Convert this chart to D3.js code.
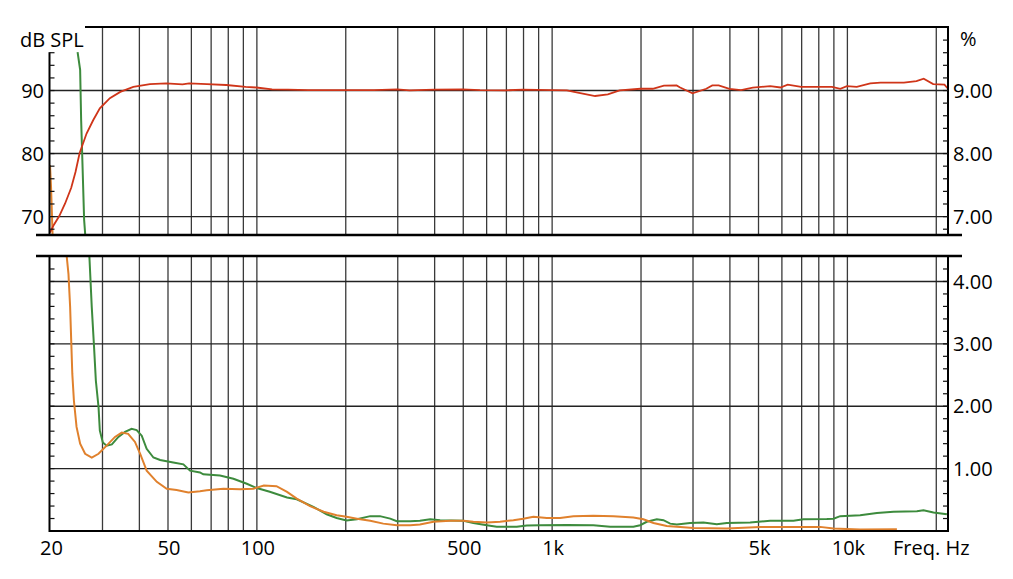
<!DOCTYPE html>
<html><head><meta charset="utf-8">
<script src="https://cdn.jsdelivr.net/npm/d3@7"></script>
<style>
body{margin:0;background:#fff;}
svg{display:block;font-family:"Open Sans",sans-serif;}
</style></head><body>
<svg id="c" width="1013" height="579"></svg>
<script>
// ---------- data ----------
const splFreqs = [20,20.6,21.5,22.5,23.6,24.4,25.2,26.6,28.0,29.5,31.9,34.6,38.3,43.6,49.5,56.2,59.2,68,79,92,100,113,128,150,250,300,330,400,500,572,700,800,1000,1126,1250,1404,1550,1700,2000,2200,2400,2650,2724,3000,3340,3500,3680,4000,4380,4800,5500,5960,6300,7000,8900,9500,10000,10800,12000,13000,15600,17200,18200,19600,21400,22000];
const splValues = [67.4,68.6,70.0,72.0,74.5,77.0,80.0,83.1,85.2,87.1,88.7,89.7,90.5,90.95,91.06,90.9,91.06,90.95,90.8,90.5,90.4,90.1,90.05,90.0,90.0,90.1,89.95,90.05,90.1,90.0,89.95,90.05,90.0,89.95,89.5,89.05,89.3,89.95,90.2,90.2,90.7,90.74,90.4,89.47,90.2,90.74,90.74,90.2,90.0,90.37,90.63,90.4,90.85,90.5,90.5,90.2,90.63,90.5,91.06,91.16,91.16,91.43,91.8,90.95,90.85,90.2];

const greenFreqs = [24.8,25.3,25.5,25.8,26.1,26.3,27.2,27.7,28.2,28.6,29.2,29.5,30.2,31.1,32.4,34.1,35.9,37.8,39.3,40.9,42.5,44.8,47.2,52.3,56.6,59.6,64.4,66.1,75.3,83.6,92.8,100.3,111,127,137,156,173,187,202,219,243,262,284,299,332,358,388,419,503,543,603,652,762,824,914,1126,1385,1578,1892,1994,2100,2271,2392,2520,2655,2944,3267,3626,3920,4702,5495,6592,7125,8554,9008,9490,11092,12636,14382,17260,18170,19644,21810];
const greenValues = [9.6,9.32,8.52,7.73,6.94,6.73,4.38,3.58,2.94,2.40,1.98,1.60,1.41,1.36,1.38,1.50,1.58,1.63,1.61,1.52,1.31,1.17,1.13,1.09,1.06,0.96,0.93,0.90,0.88,0.83,0.75,0.68,0.62,0.53,0.50,0.38,0.26,0.20,0.16,0.18,0.23,0.23,0.19,0.15,0.15,0.155,0.18,0.165,0.155,0.12,0.085,0.06,0.06,0.08,0.085,0.09,0.085,0.06,0.06,0.085,0.14,0.18,0.165,0.11,0.096,0.12,0.13,0.10,0.12,0.13,0.155,0.155,0.18,0.185,0.19,0.23,0.245,0.28,0.30,0.31,0.325,0.29,0.26];

const orangeFreqs = [20.0,20.16,20.3,20.4,20.45,22.8,23.1,23.4,23.6,23.8,24.1,24.6,25.3,26.3,27.7,29.2,31.1,33.2,35.0,36.8,38.8,40.4,42.5,46.0,49.7,53.7,58.8,64.4,67.9,77.3,88.0,97.7,106,117,127,137,152,169,187,202,219,243,269,299,332,358,398,453,503,543,603,669,742,802,867,963,1068,1185,1385,1619,1892,2045,2212,2454,2724,3022,3920,5084,8118,9008,11092,14768];
const orangeValues = [7.81,7.47,7.04,6.72,6.6,4.38,4.11,3.58,3.04,2.51,2.08,1.66,1.39,1.23,1.17,1.23,1.36,1.50,1.57,1.55,1.42,1.23,0.96,0.78,0.67,0.65,0.61,0.63,0.645,0.67,0.66,0.67,0.72,0.71,0.62,0.51,0.39,0.30,0.245,0.22,0.19,0.155,0.11,0.085,0.085,0.096,0.14,0.155,0.155,0.14,0.13,0.14,0.165,0.19,0.22,0.20,0.20,0.23,0.235,0.23,0.21,0.18,0.12,0.074,0.058,0.042,0.032,0.058,0.058,0.032,0.016,0.02];

const gridFreqs = [30,40,50,60,70,80,90,100,200,300,400,500,600,700,800,900,1000,2000,3000,4000,5000,6000,7000,8000,9000,10000,20000];
const xLabelFreqs = [20,50,100,500,1000,5000,10000];
const dbLabels = [70,80,90];
const dbMinor = [68,70,72,74,76,78,80,82,84,86,88,90,92,94,96];
const pctTopLabels = [7,8,9];
const pctTopMinor = [6.8,7.0,7.2,7.4,7.6,7.8,8.0,8.2,8.4,8.6,8.8,9.0,9.2,9.4,9.6,9.8];
const pctBotLabels = [1,2,3,4];
const pctBotMinor = [0.2,0.4,0.6,0.8,1.0,1.2,1.4,1.6,1.8,2.0,2.2,2.4,2.6,2.8,3.0,3.2,3.4,3.6,3.8,4.0,4.2];

// ---------- layout ----------
const svg = d3.select("#c");
const L = 50, R = 948;
const x = d3.scaleLog().domain([20,22000]).range([L,R]);
const topY0 = 235, topY1 = 27, botY0 = 530.5, botY1 = 256;
const yDb = d3.scaleLinear().domain([67,100]).range([topY0,topY1]);
const yPctTop = d3.scaleLinear().domain([6.7,10]).range([topY0,topY1]);
const yPctBot = d3.scaleLinear().domain([0,4.4]).range([botY0,botY1]);

const defs = svg.append("defs");
defs.append("clipPath").attr("id","clipTop").append("rect")
  .attr("x",L).attr("y",topY1).attr("width",R-L).attr("height",topY0-topY1);
defs.append("clipPath").attr("id","clipBot").append("rect")
  .attr("x",L).attr("y",botY1).attr("width",R-L).attr("height",531-botY1);

const gridColor = "#3a3a3a";
function styleGrid(g){
  g.select(".domain").remove();
  g.selectAll(".tick line").attr("stroke",gridColor).attr("stroke-width",1.3);
}
// vertical grid
svg.append("g").attr("transform",`translate(0,${topY0})`)
  .call(d3.axisBottom(x).tickValues(gridFreqs).tickSize(-(topY0-topY1)).tickFormat(""))
  .call(styleGrid);
svg.append("g").attr("transform",`translate(0,531)`)
  .call(d3.axisBottom(x).tickValues(gridFreqs).tickSize(-(531-botY1)).tickFormat(""))
  .call(styleGrid);
// horizontal grid
svg.append("g").attr("transform",`translate(${L},0)`)
  .call(d3.axisLeft(yDb).tickValues(dbLabels).tickSize(-(R-L)).tickFormat(""))
  .call(g=>{g.select(".domain").remove();g.selectAll(".tick line").attr("stroke","#222").attr("stroke-width",1.4);});
svg.append("g").attr("transform",`translate(${L},0)`)
  .call(d3.axisLeft(yPctBot).tickValues(pctBotLabels).tickSize(-(R-L)).tickFormat(""))
  .call(g=>{g.select(".domain").remove();g.selectAll(".tick line").attr("stroke","#222").attr("stroke-width",1.4);});

// ---------- curves ----------
const spl = d3.zip(splFreqs, splValues);
const green = d3.zip(greenFreqs, greenValues);
const orange = d3.zip(orangeFreqs, orangeValues);

const lineDb = d3.line().x(d=>x(d[0])).y(d=>yDb(d[1]));
const linePctTop = d3.line().x(d=>x(d[0])).y(d=>yPctTop(d[1]));
const linePctBot = d3.line().x(d=>x(d[0])).y(d=>yPctBot(d[1]));

const cTop = svg.append("g").attr("clip-path","url(#clipTop)");
const cBot = svg.append("g").attr("clip-path","url(#clipBot)");
const greenCol = "#3d8b3d", orangeCol = "#e0812d", redCol = "#cf3519";

cTop.append("path").datum(green).attr("d",linePctTop).attr("fill","none").attr("stroke",greenCol).attr("stroke-width",2);
cTop.append("path").datum(orange).attr("d",linePctTop).attr("fill","none").attr("stroke",orangeCol).attr("stroke-width",2);
cTop.append("path").datum(spl).attr("d",lineDb).attr("fill","none").attr("stroke",redCol).attr("stroke-width",1.8);

cBot.append("path").datum(green).attr("d",linePctBot).attr("fill","none").attr("stroke",greenCol).attr("stroke-width",2);
cBot.append("path").datum(orange).attr("d",linePctBot).attr("fill","none").attr("stroke",orangeCol).attr("stroke-width",2);

// ---------- axes frame ----------
function frame(x1,y1,x2,y2,w){
  svg.append("line").attr("x1",x1).attr("y1",y1).attr("x2",x2).attr("y2",y2)
    .attr("stroke","#000").attr("stroke-width",w);
}
frame(85, 27, R+1, 27, 2);                 // top border
frame(36, topY0, 962, topY0, 2.6);         // top panel bottom
frame(36, botY1, 962, botY1, 2.4);         // bottom panel top
frame(L-1, 531, R+1, 531, 2.2);            // bottom axis
frame(L-0.5, yDb(96), L-0.5, topY0, 2);    // left axis top
frame(L-0.5, botY1, L-0.5, 532, 2);        // left axis bottom
frame(R, 26, R, topY0, 2);                 // right axis top
frame(R, botY1, R, 532, 2);                // right axis bottom

function styleTicks(g){
  g.select(".domain").remove();
  g.selectAll(".tick line").attr("stroke","#111").attr("stroke-width",1.2);
}
svg.append("g").attr("transform",`translate(${L-0.5},0)`)
  .call(d3.axisLeft(yDb).tickValues(dbMinor).tickSize(-5).tickFormat("")).call(styleTicks);
svg.append("g").attr("transform",`translate(${R},0)`)
  .call(d3.axisRight(yPctTop).tickValues(pctTopMinor).tickSize(-5).tickFormat("")).call(styleTicks);
svg.append("g").attr("transform",`translate(${L-0.5},0)`)
  .call(d3.axisLeft(yPctBot).tickValues(pctBotMinor).tickSize(-5).tickFormat("")).call(styleTicks);
svg.append("g").attr("transform",`translate(${R},0)`)
  .call(d3.axisRight(yPctBot).tickValues(pctBotMinor).tickSize(-5).tickFormat("")).call(styleTicks);

// ---------- labels ----------
function styleLabels(g, dy){
  g.select(".domain").remove();
  g.selectAll(".tick line").remove();
  g.selectAll("text").attr("fill","#000").attr("font-size",20)
    .attr("font-family",'"Open Sans",sans-serif');
  if (dy) g.selectAll("text").attr("dy",dy);
}
svg.append("g").attr("transform",`translate(${L},0)`)
  .call(d3.axisLeft(yDb).tickValues(dbLabels).tickSize(0).tickPadding(6).tickFormat(d3.format("d")))
  .call(g=>styleLabels(g,"0.36em"));
svg.append("g").attr("transform",`translate(${R},0)`)
  .call(d3.axisRight(yPctTop).tickValues(pctTopLabels).tickSize(0).tickPadding(5).tickFormat(d3.format(".2f")))
  .call(g=>styleLabels(g,"0.36em"));
svg.append("g").attr("transform",`translate(${R},0)`)
  .call(d3.axisRight(yPctBot).tickValues(pctBotLabels).tickSize(0).tickPadding(5).tickFormat(d3.format(".2f")))
  .call(g=>styleLabels(g,"0.36em"));
svg.append("g").attr("transform",`translate(1,531)`)
  .call(d3.axisBottom(x).tickValues(xLabelFreqs).tickSize(0).tickPadding(10)
    .tickFormat(d=> d>=1000 ? (d/1000)+"k" : String(d)))
  .call(g=>styleLabels(g,null));

svg.append("text").attr("x",20).attr("y",47).attr("font-size",20).text("dB SPL");
svg.append("text").attr("x",960).attr("y",46).attr("font-size",20).text("%");
svg.append("text").attr("x",893).attr("y",555).attr("font-size",20).text("Freq. Hz");
</script>
</body></html>
